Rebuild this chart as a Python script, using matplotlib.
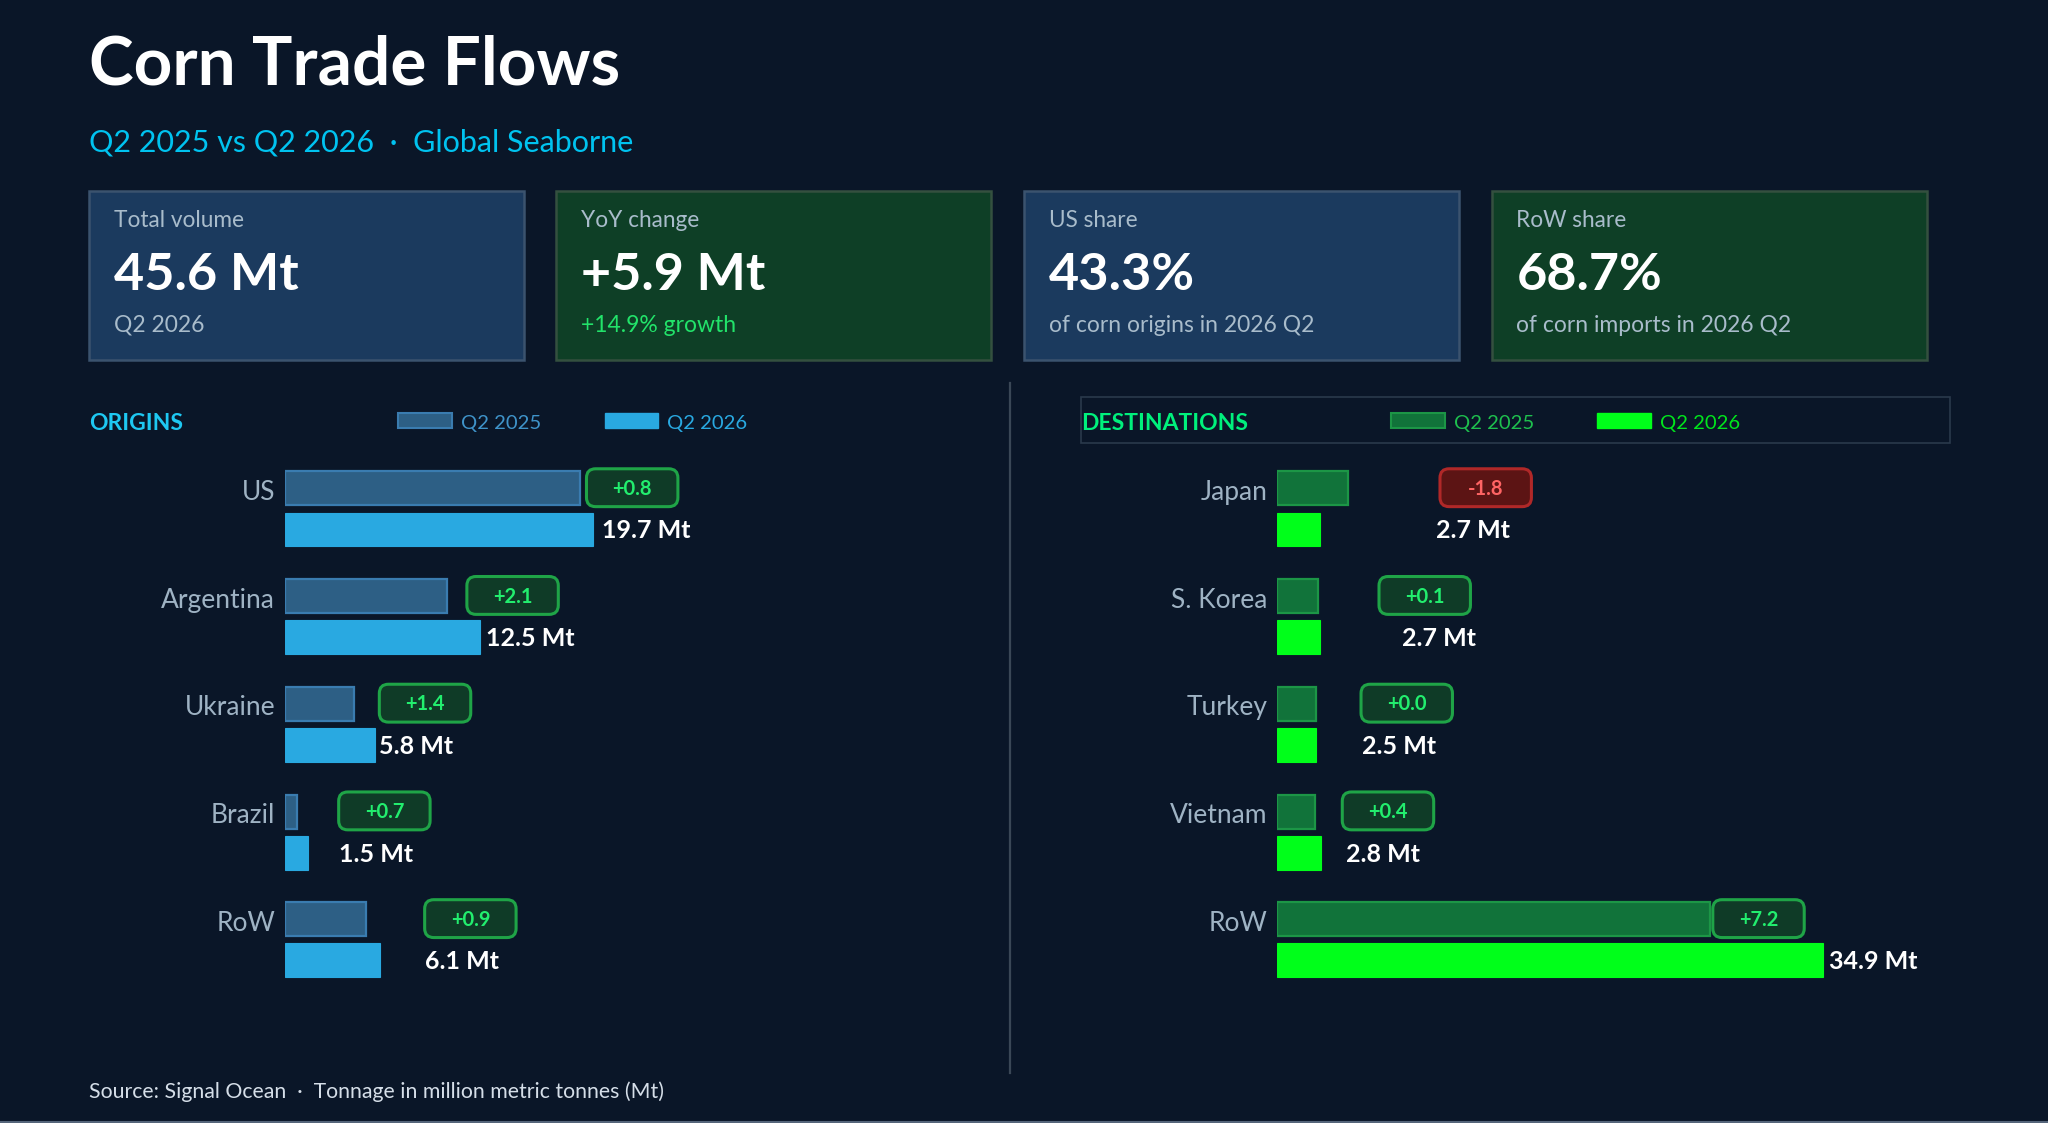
import numpy as np
import matplotlib.pyplot as plt
from matplotlib.patches import Rectangle, FancyBboxPatch

plt.rcParams['font.family'] = ['Lato', 'DejaVu Sans']

# --- data ---
origins = ["US", "Argentina", "Ukraine", "Brazil", "RoW"]
origins_2025 = [18.9, 10.4, 4.4, 0.8, 5.2]
origins_2026 = [19.7, 12.5, 5.8, 1.5, 6.1]
origins_delta = [0.8, 2.1, 1.4, 0.7, 0.9]

dests = ["Japan", "S. Korea", "Turkey", "Vietnam", "RoW"]
dests_2025 = [4.5, 2.6, 2.5, 2.4, 27.7]
dests_2026 = [2.7, 2.7, 2.5, 2.8, 34.9]
dests_delta = [-1.8, 0.1, 0.0, 0.4, 7.2]

kpi_labels = ["Total volume", "YoY change", "US share", "RoW share"]
kpi_values = ["45.6 Mt", "+5.9 Mt", "43.3%", "68.7%"]
kpi_notes = ["Q2 2026", "+14.9% growth", "of corn origins in 2026 Q2", "of corn imports in 2026 Q2"]

# label / badge nudges (Mt beyond bar end), layout only
o_label_pad = [0.6, 0.35, 0.25, 2.0, 2.85]
o_badge_pad = [0.4, 1.25, 1.65, 2.65, 3.75]
d_label_pad = [7.45, 5.25, 2.9, 1.6, 0.4]
d_badge_pad = [5.9, 3.9, 2.85, 1.75, 0.15]

BG = '#0a1628'
W, H = 1568, 860  # layout frame

fig = plt.figure(figsize=(20.48, 11.23), dpi=100, facecolor=BG)
ov = fig.add_axes([0, 0, 1, 1])
ov.set_xlim(0, W); ov.set_ylim(H, 0); ov.axis('off')
ov.set_zorder(0)

# title
ov.text(68, 65, "Corn Trade Flows", fontsize=48.5, fontweight='bold', color='white', va='baseline')
ov.text(68, 116, "Q2 2025 vs Q2 2026  \u00b7  Global Seaborne", fontsize=22, color='#00c3f0', va='baseline')

# KPI cards
card_fill = ['#1b3a5e', '#0e3f26', '#1b3a5e', '#0e3f26']
card_edge = ['#3b536e', '#34503f', '#3b536e', '#34503f']
note_col = ['#a9bccb', '#22e36a', '#a9bccb', '#a9bccb']
for i in range(4):
    x0 = 68 + i * 358
    ov.add_patch(Rectangle((x0, 146), 333, 130, facecolor=card_fill[i], edgecolor=card_edge[i], lw=1.8))
    ov.text(x0 + 19, 174, kpi_labels[i], fontsize=16.3, color='#a9bccb', va='baseline')
    ov.text(x0 + 19, 222, kpi_values[i], fontsize=37.5, fontweight='bold', color='white', va='baseline')
    ov.text(x0 + 19, 254, kpi_notes[i], fontsize=16.5, color=note_col[i], va='baseline')

# divider and bottom rule
ov.plot([773, 773], [293, 822], color='#3a4756', lw=1.6)
ov.plot([0, W], [859.6, 859.6], color='#55657a', lw=1.5)

# destinations legend frame
ov.add_patch(Rectangle((828, 304), 665, 35, facecolor='none', edgecolor='#2a394b', lw=1.2))

# footer
ov.text(68, 836, "Source: Signal Ocean  \u00b7  Tonnage in million metric tonnes (Mt)", fontsize=15.3,
        color='#d5dee8', va='center')

# bar panels
ROW = 82.5
y_top, y_bot = 330, 780
c_row0 = 389.75
XMAX = 40
AXW = XMAX * 11.97


def panel(x_start, names, v25, v26, delta, lpad, bpad, c25, e25, c26, header, hcol,
          leg_x, leg_col25, leg_col26):
    ax = fig.add_axes([x_start / W, 1 - y_bot / H, AXW / W, (y_bot - y_top) / H])
    ax.set_zorder(2)
    ax.patch.set_alpha(0)
    ax.set_xlim(0, XMAX)
    ax.set_ylim((y_bot - c_row0) / ROW, -(c_row0 - y_top) / ROW)
    ax.axis('off')
    y = np.arange(len(names))
    off, hb = 0.191, 0.315
    ax.barh(y - off, v25, height=hb, color=c25, edgecolor=e25, linewidth=1.6)
    ax.barh(y + off, v26, height=hb, color=c26, edgecolor=c26, linewidth=0.8)
    for i, n in enumerate(names):
        ax.annotate(n, xy=(0, i - off), xytext=(-7, -3), textcoords='offset points',
                    ha='right', va='center', fontsize=19, color='#9fb3c4')
        ax.annotate(f"{v26[i]:.1f} Mt", xy=(v26[i] + lpad[i], i + off), xytext=(0, -1),
                    textcoords='offset points', ha='left', va='center',
                    fontsize=18, fontweight='bold', color='white')
        # badge
        px = ax.transData.transform((v25[i] + bpad[i], i - off))
        bx, by = ov.transData.inverted().transform(px)
        neg = delta[i] < 0
        fc = '#5c1414' if neg else '#0f3b27'
        ec = '#b02828' if neg else '#1fa447'
        tc = '#ff6464' if neg else '#22ee6e'
        ax.add_patch(FancyBboxPatch((bx, by - 15), 70, 29, boxstyle="round,pad=0,rounding_size=7",
                                    facecolor=fc, edgecolor=ec, lw=2.2, transform=ov.transData,
                                    clip_on=False))
        ax.text(bx + 35, by + 0.5, f"{delta[i]:+.1f}", transform=ov.transData, ha='center', va='center',
                fontsize=14.5, fontweight='bold', color=tc, clip_on=False)
    # header and legend
    ov.text(header[1], 324.5, header[0], fontsize=16.5, fontweight='bold', color=hcol, va='center')
    ov.add_patch(Rectangle((leg_x, 316), 41, 12, facecolor=c25, edgecolor=e25, lw=1.5))
    ov.text(leg_x + 48, 324, "Q2 2025", fontsize=14.6, color=leg_col25, va='center')
    ov.add_patch(Rectangle((leg_x + 158, 316), 41, 12, facecolor=c26, edgecolor=c26, lw=1))
    ov.text(leg_x + 206, 324, "Q2 2026", fontsize=14.6, color=leg_col26, va='center')
    return ax


panel(218, origins, origins_2025, origins_2026, origins_delta, o_label_pad, o_badge_pad,
      '#2d5f85', '#3a7cb0', '#29a9e1', ("ORIGINS", 68), '#1ec8f2', 305, '#3f93c9', '#29a9e1')
panel(978, dests, dests_2025, dests_2026, dests_delta, d_label_pad, d_badge_pad,
      '#11733a', '#1c9646', '#00ff1a', ("DESTINATIONS", 828), '#00f07c', 1065, '#1ec04e', '#00e51c')

fig.savefig('out.png', dpi=100, facecolor=BG)
